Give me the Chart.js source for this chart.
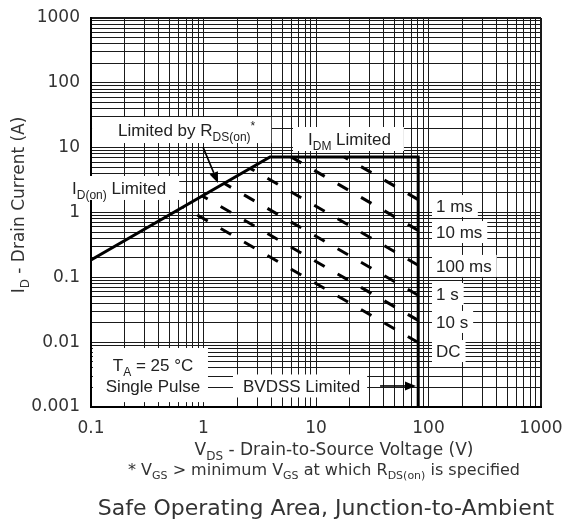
<!DOCTYPE html>
<html>
<head>
<meta charset="utf-8">
<script src="https://cdn.jsdelivr.net/npm/chart.js@4.4.0/dist/chart.umd.min.js"></script>
<style>
  html, body { margin: 0; padding: 0; background: #fff; }
</style>
</head>
<body>
<canvas id="soaChart" width="567" height="522"></canvas>
<script>
// Axis ticks (log-log)
const xTickValues = [0.1, 1, 10, 100, 1000];
const xTickLabels = ['0.1', '1', '10', '100', '1000'];
const yTickValues = [0.001, 0.01, 0.1, 1, 10, 100, 1000];
const yTickLabels = ['0.001', '0.01', '0.1', '1', '10', '100', '1000'];
const gridSteps = [1, 2, 3, 4, 5, 6, 7, 8, 9];

// Boundary: R_DS(on) limit -> I_DM limit -> BVDSS limit
const boundaryV = [0.1, 3.9, 81, 81];
const boundaryI = [0.185, 7.2, 7.2, 0.001];

// Single pulse curves, listed from the BVDSS end back to the limit line
const pulseNames = ['1 ms', '10 ms', '100 ms', '1 s', '10 s', 'DC'];
const pulseEndV = [81, 81, 81, 81, 81, 81];
const pulseEndI = [1.58, 0.53, 0.154, 0.053, 0.0217, 0.0099];
const pulseStartV = [17.8, 6.0, 2.6, 1.52, 0.975, 0.66];
const pulseStartI = [7.2, 7.2, 4.8, 2.82, 1.8, 1.22];

// ---- layout of the notes (data coordinates for anchors) ----
const noteFont = { family: '"Liberation Sans", Arial, sans-serif', size: 17, small: 12, subDy: 5, supDy: -6 };
const axisFont = { family: '"DejaVu Sans", sans-serif', size: 17, small: 12, subDy: 5, supDy: -6 };
const notes = [
  { parts: [['Limited by R'], ['DS(on)', 'sub'], ['*', 'sup']], v: 0.174, i: 18.7, pad: [26, 16], h: 26 },
  { parts: [['I'], ['D(on)', 'sub'], [' Limited']], v: 0.0678, i: 2.39, pad: [10, 13], h: 24 },
  { parts: [['I'], ['DM', 'sub'], [' Limited']], v: 8.49, i: 13.6, pad: [15, 13], h: 24 },
  { parts: [['BVDSS Limited']], v: 2.244, i: 0.00211, pad: [10, 7], h: 23 }
];
const pulseNoteV = 116.6;
const pulseNoteI = [1.26, 0.5, 0.15, 0.0553, 0.0205, 0.0073];
const conditionBox = { v0: 0.104, v1: 1.096, i0: 0.00813, i1: 0.00119 };
const conditionLines = [
  { parts: [['T'], ['A', 'sub'], [' = 25 °C']], v: 0.356, i: 0.00444 },
  { parts: [['Single Pulse']], v: 0.356, i: 0.00211 }
];
const arrows = [
  { from: [0.99, 10.2], to: [1.346, 2.85] },
  { from: [37.1, 0.00211], to: [77.4, 0.00211] }
];

const gridValues = (decades) =>
  decades.slice(0, -1).flatMap(d => gridSteps.map(s => s * d)).concat(decades[decades.length - 1]);

const isDecade = (v) => Math.abs(Math.log10(v) - Math.round(Math.log10(v))) < 1e-9;

function labelFor(values, labels, v) {
  const k = values.findIndex(t => Math.abs(Math.log10(t) - Math.log10(v)) < 1e-9);
  return k >= 0 ? labels[k] : '';
}

function partFont(p, f) {
  return (p[1] ? f.small : f.size) + 'px ' + f.family;
}

function richWidth(ctx, parts, f) {
  let w = 0;
  parts.forEach(p => { ctx.font = partFont(p, f); w += ctx.measureText(p[0]).width; });
  return w;
}

function drawRich(ctx, parts, f, x, base) {
  parts.forEach(p => {
    ctx.font = partFont(p, f);
    const dy = p[1] === 'sub' ? f.subDy : (p[1] === 'sup' ? f.supDy : 0);
    ctx.fillText(p[0], x, base + dy);
    x += ctx.measureText(p[0]).width;
  });
}

function drawArrow(ctx, x0, y0, x1, y1) {
  const a = Math.atan2(y1 - y0, x1 - x0);
  const len = 11, half = 4.5;
  const bx = x1 - len * Math.cos(a), by = y1 - len * Math.sin(a);
  ctx.strokeStyle = '#000';
  ctx.lineWidth = 1.6;
  ctx.beginPath();
  ctx.moveTo(x0, y0);
  ctx.lineTo(bx, by);
  ctx.stroke();
  ctx.fillStyle = '#000';
  ctx.beginPath();
  ctx.moveTo(x1, y1);
  ctx.lineTo(bx + half * Math.sin(a), by - half * Math.cos(a));
  ctx.lineTo(bx - half * Math.sin(a), by + half * Math.cos(a));
  ctx.closePath();
  ctx.fill();
}

const notesPlugin = {
  id: 'soaNotes',
  beforeDatasetsDraw(chart) {
    const ctx = chart.ctx;
    const xs = chart.scales.x, ys = chart.scales.y;
    ctx.save();
    ctx.textBaseline = 'alphabetic';

    const boxNote = (parts, v, i, pad, h) => {
      const x = xs.getPixelForValue(v), cy = ys.getPixelForValue(i);
      const w = richWidth(ctx, parts, noteFont);
      ctx.fillStyle = '#fff';
      ctx.fillRect(x - pad[0], cy - h / 2, w + pad[0] + pad[1], h);
      ctx.fillStyle = '#222';
      drawRich(ctx, parts, noteFont, x, cy + 6);
    };

    notes.forEach(n => boxNote(n.parts, n.v, n.i, n.pad, n.h));
    pulseNames.forEach((name, k) => boxNote([[name]], pulseNoteV, pulseNoteI[k], [4, 5], 22));

    const bx0 = xs.getPixelForValue(conditionBox.v0), bx1 = xs.getPixelForValue(conditionBox.v1);
    const by0 = ys.getPixelForValue(conditionBox.i0), by1 = ys.getPixelForValue(conditionBox.i1);
    ctx.fillStyle = '#fff';
    ctx.fillRect(bx0, by0, bx1 - bx0, by1 - by0);
    ctx.fillStyle = '#222';
    conditionLines.forEach(l => {
      const w = richWidth(ctx, l.parts, noteFont);
      drawRich(ctx, l.parts, noteFont, xs.getPixelForValue(l.v) - w / 2, ys.getPixelForValue(l.i) + 6);
    });
    ctx.restore();
  },
  afterDatasetsDraw(chart) {
    const ctx = chart.ctx;
    const xs = chart.scales.x, ys = chart.scales.y;
    ctx.save();
    arrows.forEach(a => drawArrow(ctx,
      xs.getPixelForValue(a.from[0]), ys.getPixelForValue(a.from[1]),
      xs.getPixelForValue(a.to[0]), ys.getPixelForValue(a.to[1])));
    ctx.restore();
  },
  afterDraw(chart) {
    const ctx = chart.ctx;
    ctx.save();
    ctx.textBaseline = 'alphabetic';
    ctx.fillStyle = '#333';

    // y axis title
    const yTitle = [['I'], ['D', 'sub'], [' - Drain Current (A)']];
    ctx.save();
    ctx.translate(24, 205);
    ctx.rotate(-Math.PI / 2);
    drawRich(ctx, yTitle, axisFont, -richWidth(ctx, yTitle, axisFont) / 2, 0);
    ctx.restore();

    // x axis title
    const xTitle = [['V'], ['DS', 'sub'], [' - Drain-to-Source Voltage (V)']];
    drawRich(ctx, xTitle, axisFont, 334 - richWidth(ctx, xTitle, axisFont) / 2, 455);

    // footnote
    const footFont = Object.assign({}, axisFont, { size: 16, small: 11, subDy: 4 });
    const foot = [['* V'], ['GS', 'sub'], [' > minimum V'], ['GS', 'sub'], [' at which R'], ['DS(on)', 'sub'], [' is specified']];
    drawRich(ctx, foot, footFont, 324 - richWidth(ctx, foot, footFont) / 2, 475);

    // caption
    ctx.font = '22px "DejaVu Sans", sans-serif';
    ctx.textAlign = 'center';
    ctx.fillText('Safe Operating Area, Junction-to-Ambient', 326, 515);
    ctx.restore();
  }
};

const datasets = [{
  data: boundaryV.map((v, k) => ({ x: v, y: boundaryI[k] })),
  borderColor: '#000',
  borderWidth: 3,
  borderJoinStyle: 'miter',
  showLine: true,
  pointRadius: 0
}].concat(pulseNames.map((name, k) => ({
  label: name,
  data: [{ x: pulseEndV[k], y: pulseEndI[k] }, { x: pulseStartV[k], y: pulseStartI[k] }],
  borderColor: '#000',
  borderWidth: 3,
  borderDash: [12, 15],
  borderCapStyle: 'butt',
  showLine: true,
  pointRadius: 0
})));

const gridLine = (values) => ({
  color: '#1a1a1a',
  lineWidth: (c) => (c.tick && (Math.abs(c.tick.value - values[0]) < 1e-12 || c.tick.value === values[values.length - 1])) ? 2 : 1,
  drawTicks: false
});

// plot area is placed by layout padding only; labels may hang outside it
const noScalePadding = (scale) => {
  scale.paddingLeft = 0;
  scale.paddingRight = 0;
  scale.paddingTop = 0;
  scale.paddingBottom = 0;
};

const ctx = document.getElementById('soaChart').getContext('2d');
const soaChart = new Chart(ctx, {
  type: 'scatter',
  data: { datasets: datasets },
  options: {
    responsive: false,
    animation: false,
    devicePixelRatio: 1,
    layout: { padding: { top: 18, right: 26, left: 0, bottom: 0 } },
    plugins: {
      legend: { display: false },
      tooltip: { enabled: false }
    },
    scales: {
      x: {
        type: 'logarithmic',
        min: 0.1,
        max: 1000,
        afterBuildTicks: (scale) => { scale.ticks = gridValues(xTickValues).map(v => ({ value: v })); },
        afterFit: (scale) => { scale.height = 115; noScalePadding(scale); },
        grid: gridLine(xTickValues),
        border: { display: true, color: '#000', width: 2 },
        ticks: {
          autoSkip: false,
          maxRotation: 0,
          padding: 11,
          color: '#333',
          font: { family: '"DejaVu Sans", sans-serif', size: 17 },
          callback: (v) => isDecade(v) ? labelFor(xTickValues, xTickLabels, v) : ''
        }
      },
      y: {
        type: 'logarithmic',
        min: 0.001,
        max: 1000,
        afterBuildTicks: (scale) => { scale.ticks = gridValues(yTickValues).map(v => ({ value: v })); },
        afterFit: (scale) => { scale.width = 91; noScalePadding(scale); },
        grid: gridLine(yTickValues),
        border: { display: true, color: '#000', width: 2 },
        ticks: {
          autoSkip: false,
          padding: 11,
          color: '#333',
          font: { family: '"DejaVu Sans", sans-serif', size: 17 },
          callback: (v) => isDecade(v) ? labelFor(yTickValues, yTickLabels, v) : ''
        }
      }
    }
  },
  plugins: [notesPlugin]
});
</script>
</body>
</html>
